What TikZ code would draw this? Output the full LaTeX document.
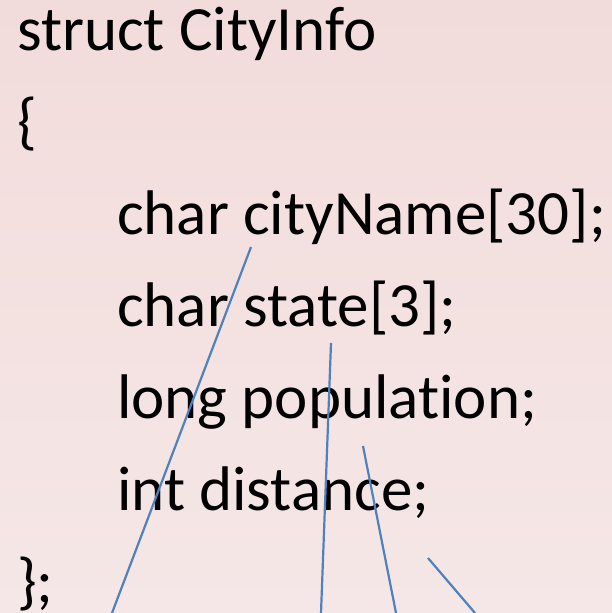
\documentclass[tikz,border=0pt]{standalone}
\usepackage{fontspec}
\setmainfont[Ligatures={NoCommon}]{Carlito}
\usepackage{tikz}
\usetikzlibrary{positioning,calc}
\usepackage{xcolor}
\definecolor{slidetop}{RGB}{242,220,219}
\definecolor{slidebot}{RGB}{245,231,231}
\definecolor{linkblue}{RGB}{79,129,189}
\tikzstyle{codeline} = [anchor=base west, inner sep=0pt, font=\fontsize{63}{92}\selectfont, text=black]
\tikzstyle{link} = [draw=linkblue, line width=2.2pt]

\begin{document}
\begin{tikzpicture}[x=1pt, y=-1pt]
    % Background
    \useasboundingbox (0,0) rectangle (612,613);
    \fill[top color=slidetop, bottom color=slidebot] (0,0) rectangle (612,613);

    % Nodes
    \node (head) [codeline] at (17,50) {struct CityInfo};
    \node (open) [codeline] at (17,142) {\{};
    \node (name) [codeline] at (117,234) {char cityName[30];};
    \node (state) [codeline] at (117,326) {char state[3];};
    \node (pop) [codeline] at (117,418) {long population;};
    \node (dist) [codeline] at (117,510) {int distance;};
    \node (close) [codeline] at (17,602) {\};};

    % Line ends
    \coordinate (nameA) at (251,247);
    \coordinate (nameB) at (112,613);
    \coordinate (stateA) at (331,343);
    \coordinate (stateB) at (321,613);
    \coordinate (popA) at (363,446);
    \coordinate (popB) at (396,613);
    \coordinate (distA) at (428,558);
    \coordinate (distB) at (475,613);

    % Lines
    \draw [link] (nameA) -- (nameB);
    \draw [link] (stateA) -- (stateB);
    \draw [link] (popA) -- (popB);
    \draw [link] (distA) -- (distB);
\end{tikzpicture}
\end{document}
